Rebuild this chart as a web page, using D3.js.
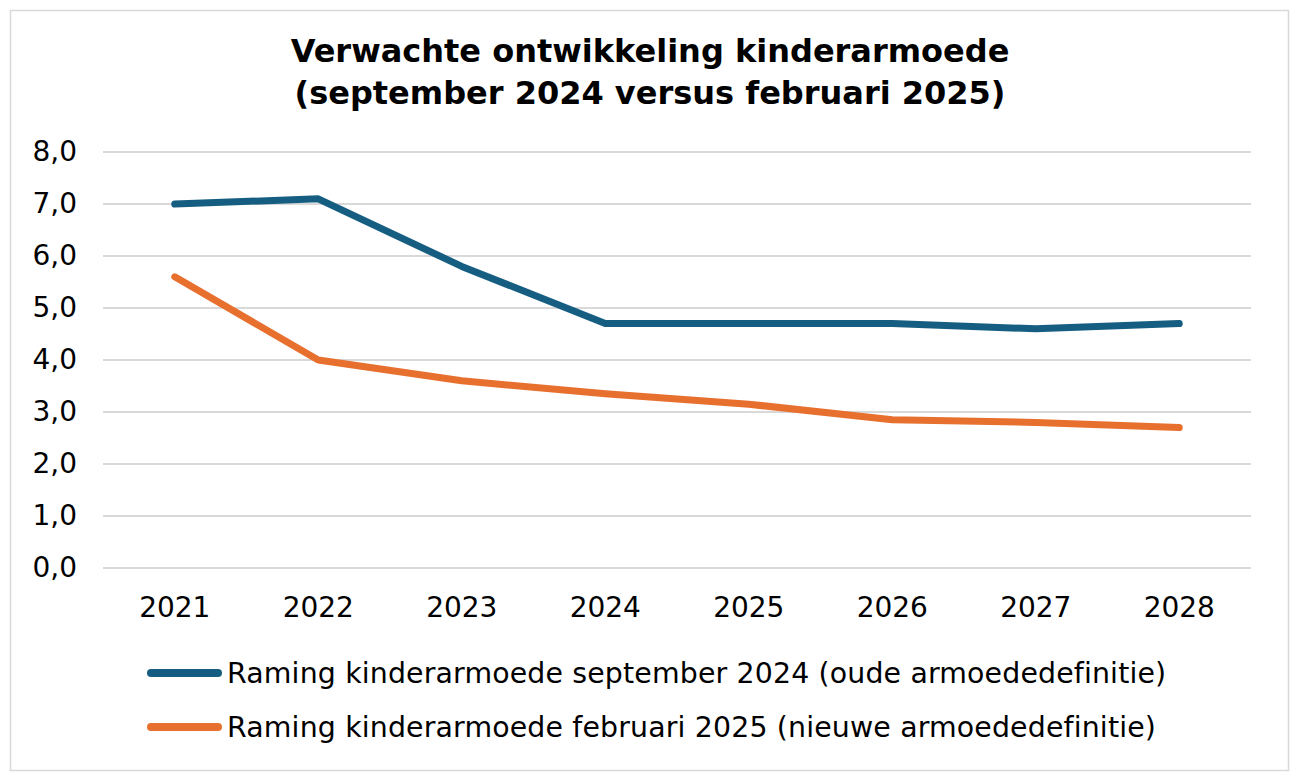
<!DOCTYPE html>
<html>
<head>
<meta charset="utf-8">
<script src="https://cdn.jsdelivr.net/npm/d3@7"></script>
<style>
  body { margin: 0; background: #fff; }
  text { font-family: Verdana, "DejaVu Sans", sans-serif; fill: #000; }
</style>
</head>
<body>
<svg id="chart" width="1299" height="779"></svg>
<script>
// gegevens
var years = ["2021", "2022", "2023", "2024", "2025", "2026", "2027", "2028"];
var oudeDef = [7.0, 7.1, 5.8, 4.7, 4.7, 4.7, 4.6, 4.7];       // september 2024
var nieuweDef = [5.6, 4.0, 3.6, 3.35, 3.15, 2.85, 2.8, 2.7];  // februari 2025
var yTicks = [0, 1, 2, 3, 4, 5, 6, 7, 8];
var seriesNames = [
  "Raming kinderarmoede september 2024 (oude armoededefinitie)",
  "Raming kinderarmoede februari 2025 (nieuwe armoededefinitie)"
];
var colors = ["#155e81", "#e8702f"];

var svg = d3.select("#chart");

// rand om de grafiek
svg.append("rect")
  .attr("x", 10.5).attr("y", 10.5)
  .attr("width", 1278).attr("height", 760)
  .attr("fill", "#fff")
  .attr("stroke", "#d9d9d9")
  .attr("stroke-width", 1.5);

// titel
var title = svg.append("text")
  .attr("x", 650).attr("y", 62)
  .attr("text-anchor", "middle")
  .style("font-size", "32px")
  .style("font-weight", "bold");
title.append("tspan").attr("x", 650).attr("dy", 0).text("Verwachte ontwikkeling kinderarmoede");
title.append("tspan").attr("x", 650).attr("dy", 42).text("(september 2024 versus februari 2025)");

var x = d3.scaleBand().domain(years).range([103, 1251]);
var y = d3.scaleLinear().domain([0, 8]).range([568, 152]);

// rasterlijnen
svg.append("g")
  .selectAll("line")
  .data(yTicks)
  .enter()
  .append("line")
  .attr("x1", 103).attr("x2", 1251)
  .attr("y1", function (d) { return y(d); })
  .attr("y2", function (d) { return y(d); })
  .attr("stroke", "#d9d9d9")
  .attr("stroke-width", 2);

// y-as
var yAxis = svg.append("g")
  .attr("transform", "translate(77,0)")
  .call(d3.axisLeft(y).tickValues(yTicks).tickSize(0).tickPadding(0)
    .tickFormat(function (d) { return d3.format(".1f")(d).replace(".", ","); }));
yAxis.select(".domain").remove();
yAxis.selectAll("text").style("font-size", "28px").style("font-family", "Verdana, 'DejaVu Sans', sans-serif");

// x-as
var xAxis = svg.append("g")
  .attr("transform", "translate(0,597)")
  .call(d3.axisBottom(x).tickSize(0).tickPadding(0));
xAxis.select(".domain").remove();
xAxis.selectAll("text").attr("dy", "0.71em").style("font-size", "28px").style("font-family", "Verdana, 'DejaVu Sans', sans-serif");

var line = d3.line()
  .x(function (d, i) { return x(years[i]) + x.bandwidth() / 2; })
  .y(function (d) { return y(d); });

[oudeDef, nieuweDef].forEach(function (s, i) {
  svg.append("path")
    .datum(s)
    .attr("d", line)
    .attr("fill", "none")
    .attr("stroke", colors[i])
    .attr("stroke-width", 7)
    .attr("stroke-linecap", "round")
    .attr("stroke-linejoin", "round");
});

// legenda
var legend = svg.append("g");
seriesNames.forEach(function (name, i) {
  var ly = 673 + i * 54;
  legend.append("line")
    .attr("x1", 151).attr("x2", 218)
    .attr("y1", ly).attr("y2", ly)
    .attr("stroke", colors[i])
    .attr("stroke-width", 8)
    .attr("stroke-linecap", "round");
  legend.append("text")
    .attr("x", 227).attr("y", ly + 10)
    .style("font-size", "28.4px")
    .style("letter-spacing", "0.15px")
    .text(name);
});
</script>
</body>
</html>
